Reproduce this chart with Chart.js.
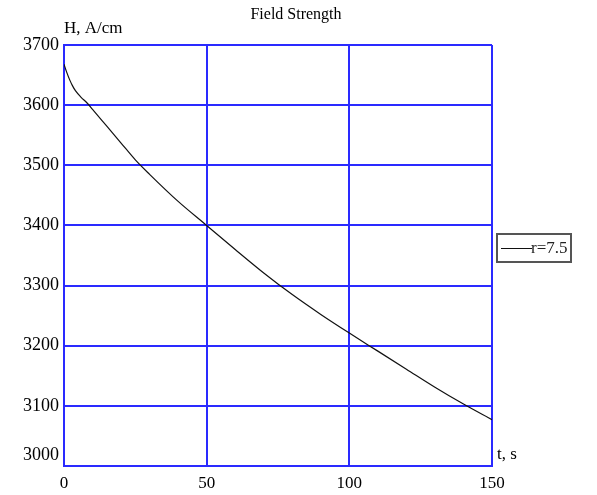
<!DOCTYPE html>
<html>
<head>
<meta charset="utf-8">
<title>Field Strength</title>
<script src="https://cdn.jsdelivr.net/npm/chart.js@4"></script>
<style>
  html, body { margin: 0; padding: 0; background: #fff; }
  #wrap { width: 597px; height: 495px; }
</style>
</head>
<body>
<div id="wrap"><canvas id="chart" width="597" height="495"></canvas></div>
<script>
// ---- data ----
const tValues = [0, 1, 2, 3, 4, 6, 8, 10, 15, 20, 25, 30, 40, 50, 60, 70, 80, 90, 100, 110, 120, 130, 140, 150];
const hValues = [3668, 3654, 3642, 3632, 3624, 3613, 3604, 3593, 3565, 3537, 3509, 3485, 3440, 3400, 3360, 3321, 3285, 3252, 3221, 3191, 3161, 3131, 3103, 3077];
const xTicks  = [0, 50, 100, 150];
const yTicks  = [3000, 3100, 3200, 3300, 3400, 3500, 3600, 3700];
const seriesLabel = 'r=7.5';

const GRID  = '#2a2aff';
const SERIF = "'Liberation Serif', 'Times New Roman', serif";

// title, axis names and boxed legend, drawn like the Mathcad plot
const decorPlugin = {
  id: 'decor',
  afterDraw(chart) {
    const { ctx, chartArea: a } = chart;
    ctx.save();
    ctx.fillStyle = '#000';
    ctx.font = '16px ' + SERIF;
    ctx.textBaseline = 'middle';
    ctx.textAlign = 'center';
    ctx.fillText('Field Strength', 296, 15);

    ctx.textAlign = 'left';
    ctx.font = '17px ' + SERIF;
    ctx.fillText('H, A/cm', a.left, 29);
    ctx.fillText('t, s', a.right + 5, 455);

    // legend box
    const ds = chart.data.datasets[0];
    const bx = 497, by = 234, bw = 74, bh = 28;
    ctx.strokeStyle = '#555';
    ctx.lineWidth = 2;
    ctx.strokeRect(bx, by, bw, bh);
    ctx.strokeStyle = ds.borderColor;
    ctx.lineWidth = 1;
    ctx.beginPath();
    ctx.moveTo(bx + 4, by + 14.5);
    ctx.lineTo(bx + 35, by + 14.5);
    ctx.stroke();
    ctx.font = '17px ' + SERIF;
    ctx.fillStyle = '#222';
    ctx.fillText(ds.label, bx + 34, by + 15);
    ctx.restore();
  }
};

new Chart(document.getElementById('chart'), {
  type: 'scatter',
  data: {
    datasets: [{
      label: seriesLabel,
      data: tValues.map((t, i) => ({ x: t, y: hValues[i] })),
      showLine: true,
      borderColor: '#111',
      borderWidth: 1.2,
      pointRadius: 0,
      cubicInterpolationMode: 'monotone'
    }]
  },
  options: {
    responsive: false,
    animation: false,
    layout: { padding: { top: 45, right: 105, left: 0, bottom: 0 } },
    plugins: {
      legend: { display: false },
      title: { display: false },
      tooltip: { enabled: false }
    },
    scales: {
      x: {
        type: 'linear',
        min: 0, max: 150,
        afterBuildTicks: s => { s.ticks = xTicks.map(v => ({ value: v })); },
        afterFit: s => { s.height = 29; },
        grid: { color: GRID, lineWidth: 2, drawTicks: false },
        border: { color: GRID, width: 2 },
        ticks: { color: '#000', font: { family: SERIF, size: 17 }, padding: 7, maxRotation: 0 }
      },
      y: {
        type: 'linear',
        min: 3000, max: 3700,
        afterBuildTicks: s => { s.ticks = yTicks.map(v => ({ value: v })); },
        afterFit: s => { s.width = 64; },
        grid: { color: GRID, lineWidth: 2, drawTicks: false },
        border: { color: GRID, width: 2 },
        ticks: {
          color: '#000',
          font: { family: SERIF, size: 18 },
          padding: 5,
          // lowest label sits above the axis corner, as in the reference
          callback: v => v === 3000 ? [String(v), ''] : String(v)
        }
      }
    }
  },
  plugins: [decorPlugin]
});
</script>
</body>
</html>
